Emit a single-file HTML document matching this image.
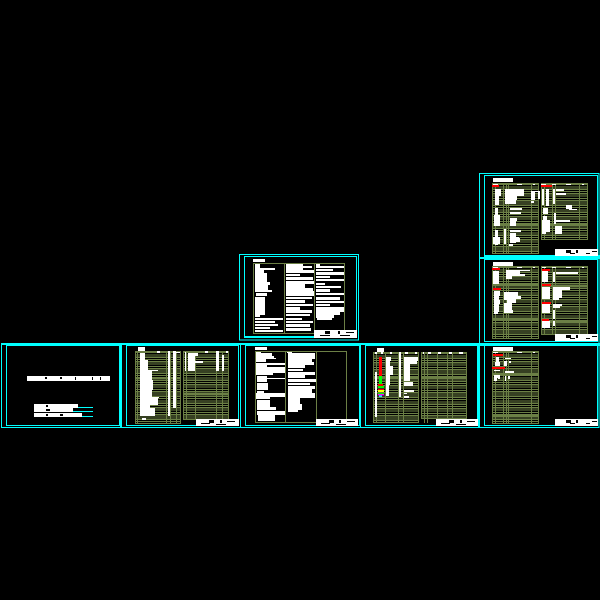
<!DOCTYPE html>
<html><head><meta charset="utf-8"><title>Drawing sheets</title>
<style>
html,body{margin:0;padding:0;background:#000;width:600px;height:600px;overflow:hidden}
.t{position:absolute;background:repeating-linear-gradient(to bottom,#6b7f45 0,#6b7f45 1.2px,#000 1.2px,#000 2.3px);box-sizing:border-box;border:1px solid #6b7f45}
.b{position:absolute;box-sizing:border-box;border:1px solid #6b7f45}
svg{position:absolute;left:0;top:0}
</style></head><body>
<div class="t" style="left:135px;top:351px;width:46px;height:73px"></div>
<div class="t" style="left:183px;top:351px;width:46px;height:69px"></div>
<div class="b" style="left:255px;top:351px;width:92px;height:72px"></div>
<div class="b" style="left:253px;top:263px;width:92px;height:71px"></div>
<div class="t" style="left:373px;top:352px;width:46px;height:71px"></div>
<div class="t" style="left:421px;top:352px;width:46px;height:67px"></div>
<div class="t" style="left:492px;top:351px;width:47px;height:73px"></div>
<div class="t" style="left:492px;top:266px;width:47px;height:73px"></div>
<div class="t" style="left:541px;top:266px;width:47px;height:69px"></div>
<div class="t" style="left:492px;top:183px;width:47px;height:71px"></div>
<div class="t" style="left:541px;top:183px;width:47px;height:57px"></div>
<svg width="600" height="600" viewBox="0 0 600 600" shape-rendering="crispEdges">
<!-- green verticals -->
<path fill="none" stroke="#6b7f45" stroke-width="1" d="M137.500 351V424M166.500 351V424M170.500 351V424M176.500 351V424M186.500 351V420M195.500 351V420M216.500 351V420M222.500 351V420
M285.500 351V423M316.500 351V423M284.500 263V334M314.500 263V334
M376.500 352V423M385.500 352V423M398.500 352V423M403.500 352V423M424.500 352V423M427.500 352V423M437.500 352V419M447.500 352V419M452.500 352V419
M495.500 351V424M503.500 351V424M506.500 351V424M508.500 351V424M531.500 351V424
M495.500 266V339M503.500 266V339M506.500 266V339M508.500 266V339M531.500 266V339M544.500 266V335M552.500 266V335M555.500 266V335M579.500 266V335
M495.500 183V254M503.500 183V254M506.500 183V254M508.500 183V254M531.500 183V254M544.500 183V240M552.500 183V240M555.500 183V240M579.500 183V240"/>
<path fill="none" stroke="#6b7f45" stroke-width="2" d="M135 378H181M183 394H229M373 378H419M421 378H467M492 416H539M492 375H539M492 285H539M492 320H539M541 286H588M541 322H588M492 225H539M541 225H588"/>
<!-- cyan frames -->
<g fill="none" stroke="#00ffff" stroke-width="1">
<rect x="1.500" y="343.500" width="119" height="84"/>
<rect x="6.500" y="345.500" width="113" height="80"/>
<rect x="121.500" y="343.500" width="119" height="84"/>
<rect x="126.500" y="345.500" width="112" height="80"/>
<rect x="240.500" y="343.500" width="120" height="84"/>
<rect x="245.500" y="345.500" width="114" height="80"/>
<rect x="360.500" y="343.500" width="118" height="84"/>
<rect x="365.500" y="345.500" width="112" height="80"/>
<rect x="479.500" y="343.500" width="119.500" height="84"/>
<rect x="484.500" y="345.500" width="113" height="80"/>
<rect x="479.500" y="258.500" width="119.500" height="85"/>
<rect x="484.500" y="259.500" width="113" height="82"/>
<rect x="479.500" y="173.500" width="119.500" height="84"/>
<rect x="484.500" y="175.500" width="113" height="81"/>
<rect x="239.500" y="254.500" width="119" height="85.500"/>
<rect x="244.500" y="256.500" width="112" height="80.500"/>
</g>
<path fill="#00ffff" d="M1 343H121V345H1zM7 345H120V346H7zM121 343H241V345H121zM241 343H361V345H241zM361 343H479V345H361zM479 343H600V346H479zM484 255H600V259H484zM479 257H484V259H479zM244 336H357V338H244z"/>
<path fill="none" stroke="#00ffff" d="M46 407.500H93M46 411.500H93M46 416.500H93"/>
<!-- white blobs -->
<path fill="#fff" d="
M27 376H110V381H27z
M34 404H78V408H34zM34 408H73V412H34zM34 413H82V417H34z
M138 347H145V351H138zM140 353H145V360H140zM140 360H148V370H140zM140 370H158V371H140zM140 371H152V380H140zM140 380H153V390H140zM140 390H152V397H140zM140 397H159V398H140zM140 398H158V405H140zM140 405H150V408H140zM140 408H155V416H140zM142 418H146V420H142z
M168 351H170V416H168zM173 351H176V408H173zM176 352H180V353H176zM157 351H160V353H157z
M188 353H195V371H188zM195 353H198V356H195zM195 361H203V363H195zM185 352H186V371H185zM216 351H219V371H216zM222 355H224V371H222zM205 351H208V353H205zM226 351H228V353H226z
M196 419H239V426H196z
M255 347H267V350H255z
M256 352H261V353H256zM256 353H272V356H256zM256 356H274V358H256zM256 358H276V359H256zM256 359H266V362H256zM256 363H285V365H256zM256 365H267V367H256zM256 367H285V373H256zM256 373H273V375H256zM257 376H267V382H257zM257 378H285V379H257zM257 383H268V390H257zM257 391H264V393H257zM256 393H285V397H256zM256 397H270V399H256zM257 400H270V407H257zM257 407H276V410H257zM257 411H285V415H257zM258 415H275V421H258z
M287 352H292V353H287zM288 353H315V359H288zM288 359H312V362H288zM288 362H314V365H288zM288 365H305V368H288zM288 369H303V371H288zM288 372H315V375H288zM288 375H305V378H288zM288 379H316V382H288zM288 383H310V385H288zM288 386H315V389H288zM288 389H312V393H288zM288 393H315V398H288zM288 398H300V404H288zM288 404H302V410H288zM288 410H298V412H288z
M316 419H358V426H316z
M253 259H265V262H253z
M255 264H260V268H255zM255 268H275V270H255zM255 270H264V273H255zM255 273H267V282H255zM255 282H270V285H255zM255 285H268V290H255zM255 290H272V292H255zM256 293H267V296H256zM255 297H265V299H255zM255 299H265V313H255zM255 313H265V315H255zM255 315H260V317H255zM255 318H283V320H255zM255 321H275V323H255zM255 324H278V326H255zM255 327H270V329H255zM255 330H283V332H255z
M286 264H303V270H286zM303 266H312V268H303zM286 270H314V273H286zM286 274H300V276H286zM286 277H313V280H286zM286 281H314V284H286zM286 284H305V288H286zM286 288H313V291H286zM286 291H314V296H286zM286 297H312V299H286zM286 300H305V303H286zM286 304H313V306H286zM286 307H300V310H286zM286 310H312V313H286zM286 314H310V316H286zM286 318H302V320H286zM286 321H313V323H286zM286 324H310V327H286zM286 328H311V331H286z
M316 264H320V266H316zM316 266H344V268H316zM316 269H333V271H316zM316 272H344V275H316zM316 276H330V278H316zM316 279H344V281H316zM316 283H325V285H316zM316 286H341V288H316zM316 289H330V292H316zM316 293H344V295H316zM316 297H340V300H316zM316 301H344V303H316zM316 304H330V306H316zM316 307H344V312H316zM316 312H340V315H316zM316 315H334V318H316zM317 318H332V320H317z
M314 330H357V338H314z
M377 348H384V352H377z
M375 372H377V417H375zM375 352H377V354H375zM386 357H391V361H386zM386 361H390V366H386zM386 366H393V375H386zM386 375H390V385H386zM386 385H389V396H386zM399 352H401V397H399zM404 357H418V361H404zM404 361H417V364H404zM404 364H410V372H404zM404 372H410V378H404zM404 378H410V381H404zM404 382H413V386H404zM404 390H414V392H404zM404 393H407V394H404zM404 396H409V398H404zM379 394H382V396H379z
M423 352H424V354H423zM428 352H431V354H428zM438 352H441V354H438zM449 352H452V354H449zM459 352H463V354H459zM381 352H383V354H381zM390 352H392V354H390zM405 352H408V354H405zM415 352H417V354H415z
M436 419H478V426H436z
M493 347H513V351H493zM493 352H498V353H493zM517 352H522V353H517zM533 352H535V353H533zM496 357H499V362H496zM495 362H500V366H495zM505 358H511V359H505zM504 361H507V366H504zM509 361H511V363H509zM494 370H500V371H494zM505 371H514V373H505zM494 375H500V378H494zM494 378H497V381H494zM498 375H500V379H498zM505 376H506V381H505zM508 376H510V379H508z
M555 419H598V426H555z
M493 262H513V266H493zM493 267H498V268H493zM517 267H522V268H517zM533 267H535V268H533zM493 271H499V276H493zM493 276H499V284H493zM506 270H520V274H506zM520 270H530V271H520zM506 274H525V276H506zM506 276H512V279H506zM494 291H500V296H494zM494 296H499V300H494zM494 300H500V304H494zM494 304H499V312H494zM494 312H498V314H494zM504 292H507V300H504zM507 292H518V296H507zM507 296H521V299H507zM507 299H516V303H507zM504 303H512V310H504zM504 310H513V313H504z
M542 271H548V282H542zM553 272H555V282H553zM556 272H578V274H556zM542 267H546V268H542zM552 267H556V268H552zM566 267H571V268H566zM582 267H584V268H582z
M542 287H550V299H542zM553 287H570V290H553zM553 290H562V298H553zM553 298H559V300H553zM542 304H550V313H542zM553 304H562V306H553zM553 306H560V308H553zM553 310H555V319H553zM542 321H550V328H542zM553 321H555V326H553z
M555 334H598V341H555z
M493 178H513V182H493zM493 184H498V185H493zM517 184H522V185H517zM533 184H535V185H533zM541 184H546V185H541zM552 184H556V185H552zM566 184H571V185H566zM582 184H584V185H582z
M495 189H499V205H495zM499 189H501V196H499zM495 208H498V215H495zM494 215H500V226H494zM495 230H498V245H495zM493 237H500V244H493zM505 189H507V204H505zM507 189H524V192H507zM507 192H524V196H507zM507 196H517V200H507zM507 200H516V204H507zM538 192H540V199H538zM531 191H540V192H531zM531 192H535V200H531zM531 201H534V203H531zM510 208H522V210H510zM510 212H521V214H510zM510 218H517V221H510zM510 221H516V226H510zM504 229H506V244H504zM510 230H521V232H510zM510 233H516V243H510zM516 237H519V242H516zM519 238H520V242H519zM509 244H513V246H509z
M542 189H544V205H542zM546 189H549V206H546zM553 189H555V204H553zM556 189H564V191H556zM556 193H566V195H556zM543 208H548V214H543zM543 216H547V220H543zM542 220H550V232H542zM542 232H546V234H542zM554 213H556V224H554zM555 220H570V222H555zM566 205H572V209H566zM569 209H577V210H569zM555 226H562V234H555z
M555 249H598V256H555z"/>
<!-- black flecks in stamps and title rows -->
<path fill="#000" d="M209 420H214V423H209zM220 420H222V423H220zM227 421H235V422H227zM201 423H210V424H201zM216 424H226V425H216z
M329 420H334V423H329zM339 420H341V423H339zM347 421H355V422H347zM321 423H330V424H321zM336 424H346V425H336z
M449 420H454V423H449zM460 420H462V423H460zM467 421H475V422H467zM441 423H450V424H441zM456 424H466V425H456z
M566 420H571V423H566zM576 420H578V423H576zM592 421H597V422H592zM570 423H575V424H570zM586 423H590V424H586z
M566 335H571V338H566zM576 335H578V338H576zM592 336H597V337H592zM570 338H575V339H570zM586 338H590V339H586z
M566 250H571V253H566zM576 250H578V253H576zM592 251H597V252H592zM570 253H575V254H570zM586 253H590V254H586z
M325 331H330V334H325zM338 331H340V334H338zM346 332H354V333H346zM320 335H330V336H320zM340 335H350V336H340z
M45 377H47V379H45zM60 377H62V379H60zM75 377H76V380H75zM92 377H93V380H92zM100 377H101V380H100z
M46 405H48V407H46zM46 409H50V411H46zM46 414H48V416H46zM60 414H63V416H60z"/>
<!-- red / colour marks -->
<path fill="#ff0000" d="M379 357H382V385H379zM378 384H383V386H378zM378 389H384V390H378zM380 394H381V395H380z
M493 354H503V356H493zM492 367H505V369H492z
M492 268H500V270H492zM493 288H501V290H493zM542 269H550V271H542zM542 284H551V286H542zM542 302H551V304H542zM542 319H549V321H542z
M492 185H499V187H492zM541 185H552V187H541z"/>
<path fill="#00ff00" d="M379 376H382V384H379zM378 386H384V388H378zM378 393H384V394H378z"/>
<path fill="#ffff00" d="M378 390H384V392H378z"/>
<path fill="#ff00ff" d="M378 394H384V395.500H378z"/>
<path fill="#00ffff" d="M379 395.500H382V397H379z"/>
</svg>
</body></html>
